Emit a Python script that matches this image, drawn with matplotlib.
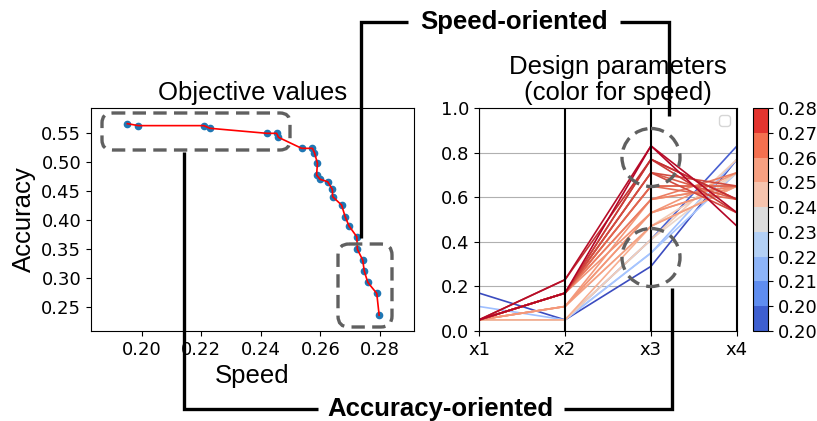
import numpy as np
import matplotlib
matplotlib.use('Agg')
import matplotlib.pyplot as plt
from matplotlib import colors, cm
from matplotlib.patches import FancyBboxPatch, Ellipse

# objective values of the pareto front (speed, accuracy)
speed = [0.1952, 0.1989, 0.2209, 0.2229, 0.2420, 0.2453, 0.2459, 0.2537, 0.2573,
         0.2580, 0.2590, 0.2587, 0.2599, 0.2624, 0.2640, 0.2641, 0.2671, 0.2683,
         0.2696, 0.2722, 0.2724, 0.2742, 0.2747, 0.2759, 0.2789, 0.2797]
accuracy = [0.5667, 0.5633, 0.5633, 0.5587, 0.5500, 0.5500, 0.5431, 0.5240, 0.5240,
            0.5165, 0.4980, 0.4779, 0.4704, 0.4663, 0.4531, 0.4404, 0.4259, 0.4057,
            0.3896, 0.3711, 0.3492, 0.3307, 0.3117, 0.2921, 0.2730, 0.2355]

# design parameters (normalised) for each solution
x1 = [0.17, 0.05, 0.11, 0.05, 0.05, 0.05, 0.05, 0.05, 0.05, 0.05, 0.05, 0.05, 0.05,
      0.05, 0.05, 0.05, 0.05, 0.05, 0.05, 0.05, 0.05, 0.05, 0.05, 0.05, 0.05, 0.05]
x2 = [0.05, 0.05, 0.05, 0.05, 0.05, 0.05, 0.11, 0.05, 0.11, 0.11, 0.11, 0.11, 0.17,
      0.17, 0.17, 0.17, 0.17, 0.17, 0.17, 0.17, 0.17, 0.17, 0.17, 0.23, 0.23, 0.17]
x3 = [0.29, 0.41, 0.35, 0.35, 0.41, 0.41, 0.47, 0.47, 0.47, 0.53, 0.53, 0.59, 0.53,
      0.59, 0.65, 0.59, 0.65, 0.65, 0.71, 0.71, 0.71, 0.77, 0.77, 0.77, 0.83, 0.83]
x4 = [0.77, 0.83, 0.77, 0.71, 0.71, 0.77, 0.71, 0.65, 0.65, 0.65, 0.71, 0.65, 0.65,
      0.65, 0.65, 0.71, 0.59, 0.65, 0.59, 0.65, 0.53, 0.59, 0.53, 0.59, 0.53, 0.47]
param_names = ['x1', 'x2', 'x3', 'x4']

# colour bands of the speed colorbar, slow -> fast
band_colors = ['#3e5fd0', '#5f8df0', '#8db4f8', '#b3d0f5', '#dcdcdc',
               '#f6c4ae', '#f7a081', '#f4704f', '#e3342f']

W, H = 817, 421
fig = plt.figure(figsize=(W / 100, H / 100), dpi=100)


def px(l, t, r, b):
    return [l / W, 1 - b / H, (r - l) / W, (b - t) / H]


sans = 'Liberation Sans'
tick_fs = 13

# objective values
ax1 = fig.add_axes(px(91, 108, 414, 331))
ax1.plot(speed, accuracy, 'o', color='tab:blue', ms=4.5, zorder=2)
ax1.plot(speed, accuracy, '-', color='red', lw=1.2, zorder=3)
ax1.set_xlim(0.183, 0.2914)
ax1.set_ylim(0.208, 0.5938)
ax1.set_xticks([0.20, 0.22, 0.24, 0.26, 0.28])
ax1.set_yticks([0.25, 0.30, 0.35, 0.40, 0.45, 0.50, 0.55])
ax1.tick_params(labelsize=tick_fs)
ax1.set_title('Objective values', fontsize=18.5, family=sans)
ax1.set_xlabel('Speed', fontsize=18.5, family=sans)
ax1.set_ylabel('Accuracy', fontsize=18.5, family=sans)

# design parameters, parallel coordinates
ax2 = fig.add_axes(px(479, 108, 737, 331))
norm = colors.Normalize(min(speed), max(speed))
xs = np.arange(len(param_names))
for i in range(len(speed)):
    ax2.plot(xs, [x1[i], x2[i], x3[i], x4[i]], color=cm.coolwarm(norm(speed[i])), lw=1.2)
for x in xs:
    ax2.axvline(x, color='black', lw=1.5)
ax2.set_xlim(0, 3)
ax2.set_ylim(0, 1)
ax2.set_xticks(xs)
ax2.set_xticklabels(param_names)
ax2.yaxis.grid(True)
ax2.tick_params(labelsize=tick_fs)
ax2.legend(handles=[], loc='upper right')
ax2.set_title('Design parameters\n(color for speed)', fontsize=18.5, family=sans,
              x=0.539, linespacing=1.1)

# discrete colorbar
cax = fig.add_axes(px(753, 108, 768, 331))
bounds = np.linspace(min(speed), max(speed), 10)
cmap9 = colors.ListedColormap(band_colors)
bnorm = colors.BoundaryNorm(bounds, 9)
fig.colorbar(cm.ScalarMappable(norm=bnorm, cmap=cmap9), cax=cax, ticks=bounds, format='%.2f')
cax.tick_params(labelsize=tick_fs)

# annotation overlay in pixel coordinates
ov = fig.add_axes([0, 0, 1, 1], zorder=10)
ov.set_xlim(0, W)
ov.set_ylim(H, 0)
ov.axis('off')
ov.patch.set_alpha(0)

line_kw = dict(color='black', lw=2.4, solid_joinstyle='miter', solid_capstyle='butt')
ov.plot([361, 361, 408], [238, 21.7, 21.7], **line_kw)
ov.plot([620, 669, 669], [21.7, 21.7, 116], **line_kw)
ov.plot([184.5, 184.5, 318], [152, 408.6, 408.6], **line_kw)
ov.plot([564, 672, 672], [408.6, 408.6, 288], **line_kw)
ov.text(514, 21.7, 'Speed-oriented', ha='center', va='center', fontsize=18.5,
        fontweight='bold', family=sans)
ov.text(440, 408.6, 'Accuracy-oriented', ha='center', va='center', fontsize=18.5,
        fontweight='bold', family=sans)

dash_kw = dict(fill=False, edgecolor='#606060', lw=2.4, linestyle=(0, (4, 2.2)))
r = 10
ov.add_patch(FancyBboxPatch((102 + r, 113 + r), 188 - 2 * r, 37 - 2 * r,
                            boxstyle=f'round,pad={r}', **dash_kw))
r = 11
ov.add_patch(FancyBboxPatch((338 + r, 244 + r), 54 - 2 * r, 83 - 2 * r,
                            boxstyle=f'round,pad={r}', **dash_kw))
ov.add_patch(Ellipse((651, 157.5), 58, 58, **dash_kw))
ov.add_patch(Ellipse((651, 257.5), 58, 58, **dash_kw))

fig.savefig('out.png', dpi=100)
